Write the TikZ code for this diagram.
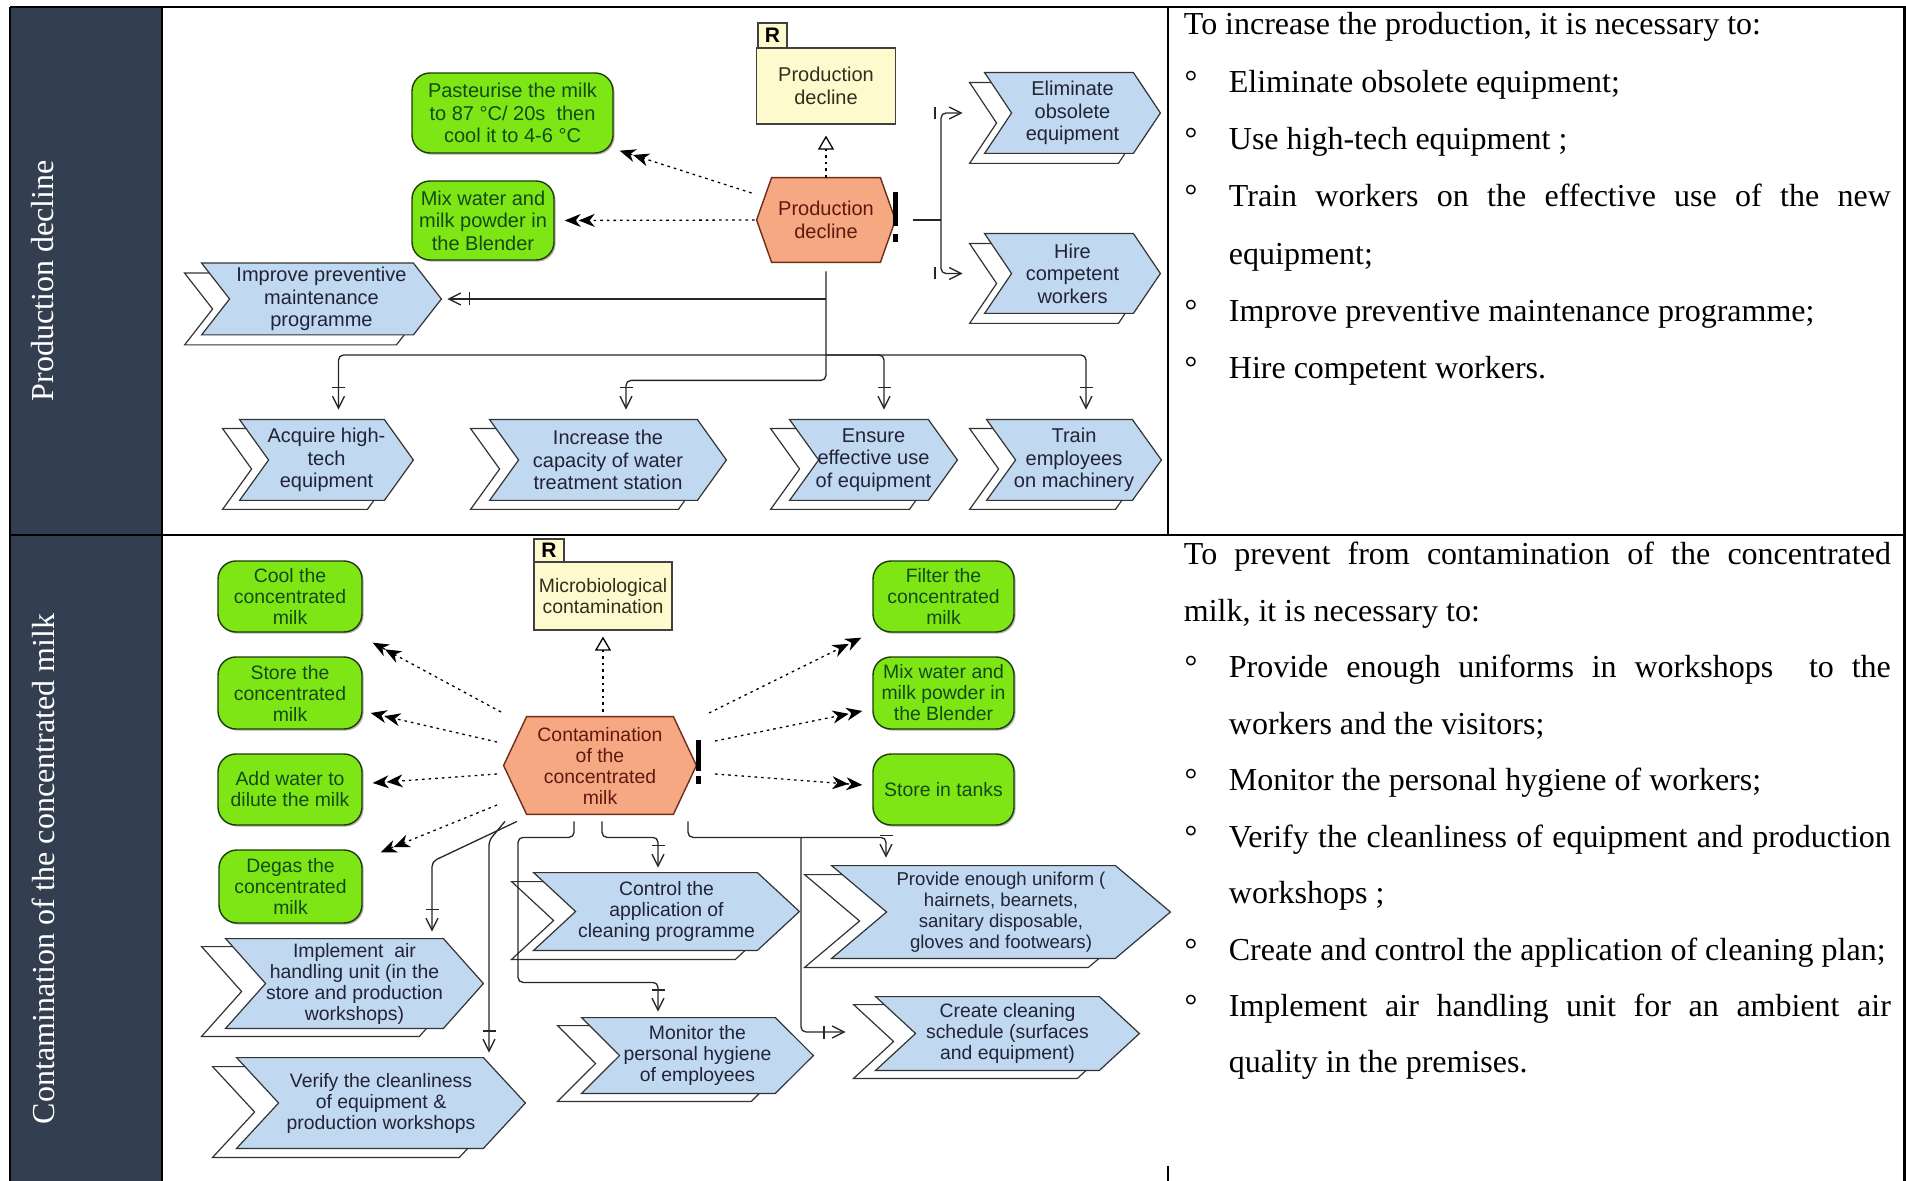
\documentclass[tikz,border=0pt]{standalone}
\usepackage{fontspec}
\setmainfont{Liberation Serif}
\newfontfamily\diagfont{Liberation Sans}
\usetikzlibrary{arrows.meta,calc,shadows}
\pgfdeclarelayer{background}
\pgfsetlayers{background,main}

\definecolor{sidebar}{RGB}{51,63,80}
\definecolor{funcfill}{RGB}{192,216,240}
\definecolor{functext}{RGB}{35,35,55}
\definecolor{taskfill}{RGB}{126,230,20}
\definecolor{taskdraw}{RGB}{30,60,10}
\definecolor{tasktext}{RGB}{20,75,20}
\definecolor{eventfill}{RGB}{246,168,130}
\definecolor{eventdraw}{RGB}{110,45,25}
\definecolor{eventtext}{RGB}{95,25,15}
\definecolor{riskfill}{RGB}{255,250,205}
\definecolor{risktext}{RGB}{55,45,30}

\tikzset{
  diag/.style={font=\diagfont\fontsize{10pt}{11.25pt}\selectfont, align=center, inner sep=0pt},
  sz/.style 2 args={minimum width=#1*0.5pt, minimum height=#2*0.5pt},
  task/.style={diag, draw=taskdraw, fill=taskfill, text=tasktext, rounded corners=9pt, line width=0.7pt,
    drop shadow={shadow xshift=0.8pt, shadow yshift=-0.8pt, fill=black, opacity=0.3}},
  func/.style={diag, text=functext},
  funcback/.style={draw=black!80, fill=funcfill, line width=0.6pt},
  funcshadow/.style={draw=black!80, fill=white, line width=0.6pt},
  event/.style={diag, text=eventtext},
  eventback/.style={draw=eventdraw, fill=eventfill, line width=0.7pt},
  risk/.style={diag, draw=black!75, fill=riskfill, text=risktext, line width=0.6pt},
  risktab/.style={draw=black!75, fill=riskfill, line width=0.6pt, inner sep=0pt,
    font=\diagfont\bfseries\fontsize{10.5pt}{11pt}\selectfont},
  flow/.style={draw=black!85, line width=0.65pt, rounded corners=2.5pt},
  flowto/.style={flow, -{Bar[width=6.5pt,sep=3.5pt] Straight Barb[length=6pt,width=6pt,line width=0.65pt]}},
  flowhead/.style={flow, -{Straight Barb[length=6pt,width=6pt,line width=0.65pt]}},
  assign/.style={draw=black, line width=0.65pt, dash pattern=on 1.3pt off 2pt,
    -{Stealth[length=8pt,width=6.5pt,inset=2.5pt,sep=-1pt]Stealth[length=8pt,width=6.5pt,inset=2.5pt]}},
  relate/.style={draw=black, line width=0.65pt, dash pattern=on 1.3pt off 2pt,
    -{Triangle[open,length=7pt,width=8pt,fill=white]}},
  tablerule/.style={draw=black, line width=1.3pt},
  sidelabel/.style={rotate=90, text=white, inner sep=0pt, font=\fontsize{16pt}{18pt}\selectfont},
}

% chevron outline with its offset copy behind a named node
% #1 node, #2 point depth, #3/#4 offset of the copy (px)
\newcommand\chevbody[4]{%
  \begin{pgfonlayer}{background}
    \path[funcshadow] ([shift={(#3,#4)}]#1.north west) -- ([shift={(#3-#2,#4)}]#1.north east)
      -- ([shift={(#3,#4)}]#1.east) -- ([shift={(#3-#2,#4)}]#1.south east)
      -- ([shift={(#3,#4)}]#1.south west) -- ([shift={(#3+#2,#4)}]#1.west) -- cycle;
    \path[funcback] (#1.north west) -- ([shift={(-#2,0)}]#1.north east) -- (#1.east)
      -- ([shift={(-#2,0)}]#1.south east) -- (#1.south west) -- ([shift={(#2,0)}]#1.west) -- cycle;
  \end{pgfonlayer}}

% hexagon outline behind a named node, #2 = depth of the side points (px)
\newcommand\hexbody[2]{%
  \begin{pgfonlayer}{background}
    \path[eventback] (#1.west) -- ([shift={(#2,0)}]#1.north west) -- ([shift={(-#2,0)}]#1.north east)
      -- (#1.east) -- ([shift={(-#2,0)}]#1.south east) -- ([shift={(#2,0)}]#1.south west) -- cycle;
  \end{pgfonlayer}}

\newcommand\bul{\makebox[22.5pt][l]{\hspace{0.3pt}°}}

\begin{document}
\begin{tikzpicture}[x=0.5pt, y=-0.5pt]
\useasboundingbox (0,0) rectangle (1906,1181);
\begin{pgfonlayer}{background}
  \fill[white] (0,0) rectangle (1906,1181);
\end{pgfonlayer}

% ---------- table ----------
\fill[sidebar] (10,7) rectangle (162,1181);
\draw[tablerule] (10,7) -- (1906,7);
\draw[tablerule] (10,535) -- (1906,535);
\draw[tablerule] (10,7) -- (10,1181);
\draw[tablerule] (162,7) -- (162,1181);
\draw[tablerule] (1168,7) -- (1168,535);
\draw[tablerule] (1168,1166) -- (1168,1181);
\draw[tablerule] (1904.5,7) -- (1904.5,1181);

\node[sidelabel] (sideA) at (43,281) {Production decline};
\node[sidelabel] (sideB) at (43,869) {Contamination of the concentrated milk};

% ---------- production decline ----------
\node[risktab, sz={29}{25}] (rAt) at (772.5,35.5) {R};
\node[risk, sz={139}{76}] (rA) at (826,86) {Production\\decline};

\node[event, sz={138}{84}] (hexA) at (826,220) {Production\\decline};
\hexbody{hexA}{15}
\fill[black] ([shift={(-2,-28)}]hexA.east) rectangle ([shift={(3,6)}]hexA.east);
\fill[black] ([shift={(-2,14)}]hexA.east) rectangle ([shift={(3,22)}]hexA.east);

\node[task, sz={201}{80}] (pastA) at (512.5,113) {Pasteurise the milk\\to 87 °C/ 20s\ \ then\\cool it to 4-6 °C};
\node[task, sz={142}{79}] (mixA) at (483,220.5) {Mix water and\\milk powder in\\the Blender};

\node[func, sz={239}{71}] (impA) at (321.5,299) {Improve preventive\\maintenance\\programme};
\chevbody{impA}{28}{-17}{10}
\node[func, sz={175}{80}] (elimA) at (1072.5,113) {Eliminate\\obsolete\\equipment};
\chevbody{elimA}{27}{-15}{10}
\node[func, sz={175}{79}] (hireA) at (1072.5,273.5) {Hire\\competent\\workers};
\chevbody{hireA}{27}{-15}{10}
\node[func, sz={173}{80}] (acqA) at (326.5,460) {Acquire high-\\tech\\equipment};
\chevbody{acqA}{29}{-17}{9}
\node[func, sz={236}{80}] (incA) at (608,460) {Increase the\\capacity of water\\treatment station};
\chevbody{incA}{29}{-19}{9}
\node[func, sz={167}{80}] (ensA) at (873.5,460) {Ensure\\effective use\\of equipment};
\chevbody{ensA}{29}{-19}{9}
\node[func, sz={174}{80}] (traA) at (1074,460) {Train\\employees\\on machinery};
\chevbody{traA}{29}{-17}{9}

\draw[relate] (hexA.north) -- ([shift={(0,11)}]rA.south);
\draw[assign] ([shift={(-5,-27)}]hexA.west) -- ([shift={(6,-3)}]pastA.south east);
\draw[assign] ([shift={(-2,0)}]hexA.west) -- ([shift={(10,0)}]mixA.east);

\coordinate (brA) at (941,220);
\draw[flow] ([shift={(18,0)}]hexA.east) -- (brA);
\draw[flowhead] (brA) |- ([shift={(-22,0)}]elimA.west);
\draw[flowhead] (brA) |- ([shift={(-22,0)}]hireA.west);
\draw[flow] ($(brA |- elimA.west)+(-6,-6)$) -- ++(0,12);
\draw[flow] ($(brA |- hireA.west)+(-6,-6)$) -- ++(0,12);

\draw[flowto] ([shift={(0,9)}]hexA.south) -- ++(0,109) -| ([shift={(18,-10)}]incA.north);
\coordinate (busA) at (826,355);
\draw[flowto] (busA) -| ([shift={(12,-10)}]acqA.north);
\draw[flowto] (busA) -| ([shift={(10.5,-10)}]ensA.north);
\draw[flowto] (busA) -| ([shift={(12,-10)}]traA.north);
\coordinate (jImp) at (826,299);
\draw[flowto] (jImp) -- ([shift={(6,0)}]impA.east);

% ---------- contamination of the concentrated milk ----------
\begin{scope}[diag/.style={font=\diagfont\fontsize{9.7pt}{10.5pt}\selectfont, align=center, inner sep=0pt}]
\node[risktab, sz={30}{23}] (rBt) at (549,550.5) {R};
\node[risk, sz={138}{68}] (rB) at (603,596) {Microbiological\\contamination};

\node[event, sz={192}{97}] (hexB) at (600,765.5) {Contamination\\of the\\concentrated\\milk};
\hexbody{hexB}{23}
\fill[black] ([shift={(0,-25.5)}]hexB.east) rectangle ([shift={(5,5.5)}]hexB.east);
\fill[black] ([shift={(0,10.5)}]hexB.east) rectangle ([shift={(5,18.5)}]hexB.east);

\node[task, sz={144}{71}] (coolB) at (290,596.5) {Cool the\\concentrated\\milk};
\node[task, sz={144}{72}] (storeB) at (290,693) {Store the\\concentrated\\milk};
\node[task, sz={144}{71}] (addB) at (290,789.5) {Add water to\\dilute the milk};
\node[task, sz={143}{73}] (degasB) at (290.5,886.5) {Degas the\\concentrated\\milk};
\node[task, sz={141}{71}] (filtB) at (943.5,596.5) {Filter the\\concentrated\\milk};
\node[task, sz={141}{72}] (mixB) at (943.5,693) {Mix water and\\milk powder in\\the Blender};
\node[task, sz={141}{71}] (tankB) at (943.5,789.5) {Store in tanks};

\node[func, sz={265}{77}] (ctrlB) at (666.5,911.5) {Control the\\application of\\cleaning programme};
\chevbody{ctrlB}{42}{-22}{9}
\node[func, sz={338}{92}, font=\diagfont\fontsize{9.3pt}{10.5pt}\selectfont] (provB) at (1001,912) {Provide enough uniform (\\hairnets, bearnets,\\sanitary disposable,\\gloves and footwears)};
\chevbody{provB}{55}{-27}{9}
\node[func, sz={257}{89}] (implB) at (354.5,983.5) {Implement\ \ air\\handling unit (in the\\store and production\\workshops)};
\chevbody{implB}{40}{-24}{8}
\node[func, sz={288}{90}] (verB) at (381,1103) {Verify the cleanliness\\of equipment \&\\production workshops};
\chevbody{verB}{42}{-24}{9}
\node[func, sz={231}{75}] (monB) at (697.5,1055.5) {Monitor the\\personal hygiene\\of employees};
\chevbody{monB}{38}{-24}{8}
\node[func, sz={263}{73}] (creB) at (1007.5,1033.5) {Create cleaning\\schedule (surfaces\\and equipment)};
\chevbody{creB}{40}{-22}{8}
\end{scope}

\draw[relate] ($(rB.south |- hexB.north)+(0,-5)$) -- ([shift={(0,6)}]rB.south);

\draw[assign] ([shift={(-99,-53.5)}]hexB.center) -- ([shift={(10,10)}]coolB.south east);
\draw[assign] ([shift={(-103,-23.5)}]hexB.center) -- ([shift={(8,20)}]storeB.east);
\draw[assign] ([shift={(-103,8.5)}]hexB.center) -- ([shift={(10,-6.5)}]addB.east);
\draw[assign] ([shift={(-103,39.5)}]hexB.center) -- ([shift={(18,3)}]degasB.north east);
\draw[assign] ([shift={(109,-52.5)}]hexB.center) -- ([shift={(-11,5)}]filtB.south west);
\draw[assign] ([shift={(115,-24.5)}]hexB.center) -- ([shift={(-10,18)}]mixB.west);
\draw[assign] ([shift={(115,8.5)}]hexB.center) -- ([shift={(-10,-4.5)}]tankB.west);

\draw[flowto] ([shift={(-83,7)}]hexB.south) -- ([shift={(77.5,-77)}]implB.north) -- ([shift={(77.5,-7)}]implB.north);
\draw[flowto] ([shift={(-95,7)}]hexB.south) -- ([shift={(108,-217)}]verB.north) -- ([shift={(108,-5)}]verB.north);
\draw[flowto] ([shift={(-26,7)}]hexB.south) -- ++(0,16) -| ++(-56,145) -| ([shift={(-39.5,-6)}]monB.north);
\draw[flowto] ([shift={(2,7)}]hexB.south) -- ++(0,16) -| ([shift={(-8.5,-5)}]ctrlB.north);
\draw[flowto] ([shift={(88,7)}]hexB.south) -- ++(0,16) -| ([shift={(-115,-8)}]provB.north);
\coordinate (jCre) at (801,837);
\draw[flowto] (jCre) |- ([shift={(-30,-1.5)}]creB.west);

% ---------- notes ----------
\node[anchor=base west, inner sep=0pt] (noteA) at (1183.5,35) {\begin{minipage}[t]{353.5pt}
\fontsize{16pt}{28.65pt}\selectfont\raggedright
To increase the production, it is necessary to:\\
\bul Eliminate obsolete equipment;\\
\bul Use high-tech equipment ;\\
\bul\makebox[331pt][s]{Train workers on the effective use of the new}\\
\hspace*{22.5pt}equipment;\\
\bul Improve preventive maintenance programme;\\
\bul Hire competent workers.
\end{minipage}};

\node[anchor=base west, inner sep=0pt] (noteB) at (1183.5,565) {\begin{minipage}[t]{353.5pt}
\fontsize{16pt}{28.22pt}\selectfont\raggedright
\makebox[353.5pt][s]{To prevent from contamination of the concentrated}\\
milk, it is necessary to:\\
\bul\makebox[331pt][s]{Provide enough uniforms in workshops\ \ to the}\\
\hspace*{22.5pt}workers and the visitors;\\
\bul Monitor the personal hygiene of workers;\\
\bul\makebox[331pt][s]{Verify the cleanliness of equipment and production}\\
\hspace*{22.5pt}workshops ;\\
\bul Create and control the application of cleaning plan;\\
\bul\makebox[331pt][s]{Implement air handling unit for an ambient air}\\
\hspace*{22.5pt}quality in the premises.
\end{minipage}};
\end{tikzpicture}
\end{document}
